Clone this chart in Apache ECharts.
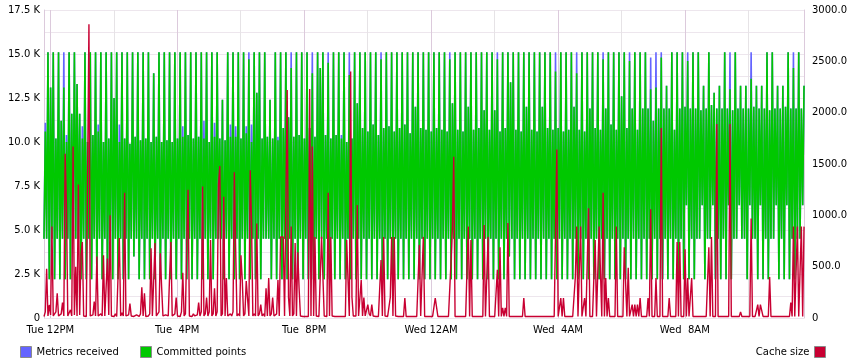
<!DOCTYPE html>
<html><head><meta charset="utf-8">
<script src="https://cdn.jsdelivr.net/npm/echarts@6/dist/echarts.min.js"></script>
<style>html,body{margin:0;padding:0;background:#fff}#c{width:850px;height:364px}</style>
</head><body><div id="c"></div>
<script>
// time: minutes since Tue 00:00; samples every 2.5 minutes starting Tue 11:48
const startMinute = 708;
const stepMinutes = 2.5;
const xTickValues = [720, 960, 1200, 1440, 1680, 1920];
const xTickLabels = ['Tue 12PM', 'Tue  4PM', 'Tue  8PM', 'Wed 12AM', 'Wed  4AM', 'Wed  8AM'];
const xMinorTickValues = [840, 1080, 1320, 1560, 1800, 2040];
const leftTickLabels = ['0', '2.5 K', '5.0 K', '7.5 K', '10.0 K', '12.5 K', '15.0 K', '17.5 K'];
const rightTickLabels = ['0', '500.0', '1000.0', '1500.0', '2000.0', '2500.0', '3000.0'];

// per 10-minute cycle values (thousands): trough after spike, secondary high, trough, spike
const lowsA = [
4.5,2.2,2.2,2.2,2.2,2.2,4.5,2.2,2.2,2.2,2.2,2.2,
2.2,2.2,2.2,2.2,2.2,3.5,2.2,2.2,2.2,2.2,2.2,2.2,
2.2,2.2,2.2,2.2,2.2,2.2,2.2,2.2,2.2,4.5,2.2,2.2,
2.2,2.2,2.2,2.2,2.2,2.2,4.5,2.2,2.2,2.2,2.2,2.2,
2.2,2.2,2.2,2.2,2.2,2.2,2.2,2.2,2.2,2.2,2.2,2.2,
2.2,2.2,2.2,2.2,2.2,2.2,2.2,2.2,2.2,2.2,2.2,2.2,
2.2,2.2,2.2,2.2,2.2,2.2,2.2,2.2,2.2,2.2,2.2,2.2,
2.2,2.2,2.2,2.2,3.5,2.2,2.2,2.2,2.2,2.2,2.2,2.2,
2.2,2.2,2.2,2.2,2.2,2.2,2.2,2.2,2.2,2.2,2.2,2.2,
2.2,2.2,2.2,2.2,2.2,2.2,2.2,2.2,2.2,2.2,2.2,2.2,
2.2,2.2,2.2,2.2,4.5,2.2,4.5,2.2,2.2,2.2,2.2,4.5,
4.5,2.2,4.5,2.2,2.2,2.2,4.5,2.2,2.2,2.2,2.2,4.5];
const lowsB = [
4.5,4.5,4.5,4.5,4.5,4.5,4.5,4.5,4.5,4.5,4.5,4.5,
4.5,4.5,4.5,4.5,4.5,4.5,4.5,4.5,4.5,4.5,4.5,4.5,
4.5,4.5,4.5,4.5,4.5,4.5,4.5,4.5,4.5,4.5,4.5,4.5,
4.5,4.5,4.5,4.5,4.5,4.5,4.5,4.5,4.5,4.5,4.5,4.5,
4.5,4.5,4.5,4.5,4.5,4.5,4.5,4.5,4.5,4.5,4.5,4.5,
4.5,4.5,4.5,4.5,4.5,4.5,4.5,4.5,4.5,4.5,4.5,4.5,
4.5,4.5,4.5,4.5,4.5,4.5,4.5,4.5,4.5,4.5,4.5,4.5,
4.5,4.5,4.5,4.5,4.5,4.5,4.5,4.5,4.5,4.5,4.5,4.5,
4.5,4.5,4.5,4.5,4.5,4.5,4.5,4.5,4.5,4.5,4.5,4.5,
4.5,4.5,4.5,4.5,4.5,4.5,4.5,4.5,4.5,4.5,4.5,4.5,
4.5,6.4,4.5,4.5,6.4,4.5,6.4,4.5,4.5,6.4,4.5,6.4,
4.5,6.4,4.5,6.4,4.5,4.5,6.4,4.5,6.4,4.5,4.5,6.4];
const committedHighs = [
10.6,13.1,10.2,11.2,10.0,11.6,13.3,10.2,10.0,10.4,10.6,10.0,
10.2,12.5,10.0,10.2,9.9,10.3,10.1,10.2,10.0,10.3,10.0,10.1,
10.0,10.2,10.3,10.4,10.2,10.3,10.2,10.0,10.3,10.2,10.1,10.3,
10.3,10.2,10.5,10.0,12.8,10.2,10.3,10.2,10.1,10.8,11.4,10.3,
10.4,10.2,10.8,10.3,14.2,10.4,10.2,10.4,10.2,10.0,10.2,12.2,
10.8,10.6,11.0,10.4,10.8,10.9,10.6,10.8,11.0,10.5,12.0,10.8,
10.7,10.6,10.8,10.7,10.6,12.2,10.7,10.6,12.0,10.7,10.8,11.8,
10.7,11.8,10.6,10.8,13.4,10.7,10.6,12.0,10.7,10.6,12.0,10.8,
10.7,10.8,10.6,10.7,12.0,10.7,10.6,11.9,10.8,10.7,11.9,11.0,
10.7,12.6,10.8,11.9,10.7,11.9,11.9,11.2,11.9,11.9,11.9,10.7,
11.9,12.0,11.9,11.9,11.8,11.9,12.1,11.9,11.9,11.9,11.8,11.9,
11.9,11.9,12.0,11.9,11.9,11.8,11.9,11.9,12.0,11.9,11.9,11.9];
const committedPeaks = [
15.1,15.1,15.1,13.1,15.1,15.1,11.6,15.1,15.1,15.1,15.1,15.1,
15.1,15.1,15.1,15.1,15.1,15.1,15.1,15.1,13.9,15.1,15.1,15.1,
15.1,15.1,15.1,15.1,15.1,15.1,15.1,15.1,15.1,12.4,15.1,15.1,
15.1,15.1,14.7,15.1,15.1,15.1,12.4,15.1,15.1,15.1,14.2,15.1,
15.1,15.1,13.9,15.1,15.1,14.5,15.1,15.1,15.1,13.8,15.1,15.1,
15.1,15.1,15.1,14.7,15.1,15.1,15.1,15.1,15.1,15.1,15.1,15.1,
15.1,15.1,15.1,15.1,14.7,15.1,15.1,15.1,15.1,15.1,15.1,15.1,
15.1,14.7,15.1,15.1,15.1,15.1,15.1,15.1,15.1,15.1,15.1,15.1,
14.0,15.1,15.1,15.1,13.9,15.1,15.1,15.1,15.1,14.7,15.1,15.1,
15.1,15.1,14.6,15.1,15.1,15.1,13.0,13.1,14.8,13.2,15.1,15.1,
15.1,14.6,15.1,15.1,13.2,15.1,12.8,13.2,15.1,13.0,15.1,13.2,
13.2,13.6,13.2,13.2,15.1,15.1,13.2,13.2,15.1,14.2,15.1,13.2];
const receivedHighs = [
11.1,13.1,10.2,11.2,10.4,11.6,13.3,10.9,10.0,10.4,11.0,10.0,
10.2,12.5,11.0,10.2,9.9,10.3,10.1,10.2,10.0,10.3,10.0,10.1,
10.0,10.2,10.9,10.4,10.2,10.3,11.2,10.0,11.1,10.2,10.1,11.0,
10.9,10.2,10.9,11.0,12.8,10.2,10.3,10.2,10.3,10.8,11.4,10.3,
10.4,10.2,10.8,10.3,14.2,10.4,10.2,10.4,10.4,10.0,10.2,12.2,
10.8,10.6,11.0,10.4,10.8,10.9,10.6,10.8,11.0,10.5,12.0,10.8,
10.7,10.6,10.8,10.7,10.6,12.2,10.7,10.6,12.0,10.7,10.8,11.8,
10.7,11.8,10.6,10.8,13.4,10.7,10.6,12.0,10.7,10.6,12.0,10.8,
10.7,10.8,10.6,10.7,12.0,10.7,10.6,11.9,10.8,10.7,11.9,11.0,
10.7,12.6,10.8,11.9,10.7,11.9,11.9,11.2,11.9,11.9,11.9,10.7,
11.9,12.0,11.9,11.9,11.8,11.9,12.1,11.9,11.9,11.9,11.8,11.9,
11.9,11.9,12.0,11.9,11.9,11.8,11.9,11.9,12.0,11.9,11.9,11.9];
const receivedPeaks = [
15.1,15.1,15.1,15.1,15.1,15.1,11.6,15.1,15.1,15.1,15.1,15.1,
15.1,15.1,15.1,15.1,15.1,15.1,15.1,15.1,13.9,15.1,15.1,15.1,
15.1,15.1,15.1,15.1,15.1,15.1,15.1,15.1,15.1,12.4,15.1,15.1,
15.1,15.1,15.1,15.1,15.1,15.1,12.4,15.1,15.1,15.1,15.1,15.1,
15.1,15.1,15.1,15.1,15.1,15.1,15.1,15.1,15.1,15.1,15.1,15.1,
15.1,15.1,15.1,15.1,15.1,15.1,15.1,15.1,15.1,15.1,15.1,15.1,
15.1,15.1,15.1,15.1,15.1,15.1,15.1,15.1,15.1,15.1,15.1,15.1,
15.1,15.1,15.1,15.1,15.1,15.1,15.1,15.1,15.1,15.1,15.1,15.1,
15.1,15.1,15.1,15.1,15.1,15.1,15.1,15.1,15.1,15.1,15.1,15.1,
15.1,15.1,15.1,15.1,15.1,15.1,14.8,15.1,15.1,13.2,15.1,15.1,
15.1,15.1,15.1,15.1,13.2,15.1,12.8,13.2,15.1,15.1,15.1,13.2,
13.2,15.1,13.2,13.2,15.1,15.1,13.2,13.2,15.1,15.1,15.1,13.2];

// cache size, one value per 2.5-minute sample (24 per hour)
const cacheSize = [
15,60,480,20,127,30,890,20,15,60,240,20,15,40,150,20,1600,1080,20,15,80,20,1670,30,
500,20,1300,30,610,740,20,15,15,20,2860,20,15,30,160,20,600,20,15,40,20,610,20,15,
580,30,1000,20,15,15,40,15,20,780,20,50,20,1220,20,15,30,140,20,15,15,15,30,15,
15,40,300,20,240,15,15,20,40,680,20,15,730,20,15,60,630,300,20,15,30,15,20,400,
740,20,15,40,200,20,15,15,60,440,20,40,730,1250,20,15,15,40,20,15,30,150,20,60,
1280,20,40,200,20,60,760,20,40,290,20,60,1300,1480,20,40,1180,20,390,20,15,40,20,60,
1420,680,20,40,20,610,370,20,40,360,360,20,1440,950,20,40,20,920,20,40,130,20,40,15,
290,20,390,20,40,200,20,15,40,370,20,790,790,790,20,15,2220,200,20,890,20,40,730,20,
640,290,20,15,15,15,15,15,15,2230,20,1670,20,790,20,15,15,15,790,790,20,15,15,1220,
20,790,20,15,15,15,15,15,15,15,15,20,15,760,370,20,2400,200,20,15,20,1100,20,15,
370,20,200,20,15,130,40,20,130,20,15,15,15,15,20,565,20,790,20,15,15,15,200,790,
20,790,20,15,15,15,15,15,15,195,15,15,15,15,15,15,15,15,15,15,710,20,15,790,
15,15,15,15,15,15,15,15,195,195,15,15,15,15,15,15,15,15,15,15,565,890,1570,15,
15,15,15,15,15,15,15,15,15,890,15,760,15,15,15,15,15,15,15,15,15,906,15,15,
790,15,15,15,15,15,15,470,15,690,15,100,15,100,15,925,15,15,15,15,15,15,15,15,
15,15,15,195,15,15,15,15,15,15,15,15,15,15,15,15,15,15,15,15,15,15,15,15,
15,15,15,15,1640,15,15,195,15,195,15,15,15,15,15,15,15,15,400,890,15,15,890,15,
15,195,15,15,1070,15,15,15,15,760,15,15,890,890,15,1220,15,390,15,195,15,15,15,15,
15,890,15,15,15,15,15,690,690,15,490,15,15,130,15,130,15,130,15,195,15,15,15,15,
15,195,15,1060,15,15,15,390,15,15,15,1850,15,15,15,15,15,195,15,15,15,15,15,740,
15,740,15,15,15,670,15,390,15,15,390,15,15,15,15,15,15,15,15,15,15,15,15,690,
15,790,15,15,15,1890,15,15,15,15,15,15,15,15,15,1890,15,15,15,15,15,15,15,60,
15,15,15,15,15,15,15,970,15,15,15,15,130,15,130,130,15,15,15,15,15,400,15,15,
15,15,15,15,15,15,15,15,15,15,15,15,15,150,15,890,15,15,890,15,15,890,15,890];

function interleave(a, h, b, p) {
  const out = [];
  for (let k = 0; k < p.length; k++) out.push(a[k], h[k], b[k], p[k]);
  return out;
}
const toXY = arr => arr.map((v, i) => [startMinute + i * stepMinutes, v]);
const committed = toXY(interleave(lowsA, committedHighs, lowsB, committedPeaks));
const received = toXY(interleave(lowsA, receivedHighs, lowsB, receivedPeaks));
const cache = toXY(cacheSize);
const xMax = startMinute + (cacheSize.length - 1) * stepMinutes;

const FONT = 'DejaVu Sans';
const txt = {fontFamily: FONT, fontSize: 10, color: '#000'};
const chart = echarts.init(document.getElementById('c'), null, {renderer: 'canvas'});
const legendBase = {
  top: 346, padding: 0, itemWidth: 11, itemHeight: 11, icon: 'rect', selectedMode: false,
  textStyle: {fontFamily: FONT, fontSize: 10, color: '#000'},
  itemStyle: {borderColor: '#8a8a8a', borderWidth: 1}
};
chart.setOption({
  animation: false,
  backgroundColor: '#fff',
  grid: {left: 44, right: 42, top: 10, bottom: 46},
  legend: [
    Object.assign({left: 20, data: ['Metrics received']}, legendBase),
    Object.assign({left: 140, data: ['Committed points']}, legendBase),
    Object.assign({right: 24, align: 'right', data: ['Cache size']}, legendBase)
  ],
  xAxis: [
    {type: 'value', min: startMinute, max: xMax,
     axisLine: {show: false}, axisTick: {show: false, customValues: xTickValues},
     axisLabel: Object.assign({customValues: xTickValues, margin: 7,
       formatter: v => xTickLabels[xTickValues.indexOf(v)] || ''}, txt),
     splitLine: {show: true, lineStyle: {color: '#dccadc', width: 1}}},
    {type: 'value', min: startMinute, max: xMax, position: 'bottom',
     axisLine: {show: false}, axisTick: {show: false, customValues: xMinorTickValues},
     axisLabel: {show: false, customValues: xMinorTickValues},
     splitLine: {show: true, lineStyle: {color: '#e6e3e6', width: 1}}}
  ],
  yAxis: [
    {type: 'value', min: 0, max: 17.5, interval: 2.5, position: 'left',
     axisLine: {show: true, lineStyle: {color: '#dccadc'}}, axisTick: {show: false},
     axisLabel: Object.assign({margin: 4, formatter: v => leftTickLabels[Math.round(v / 2.5)]}, txt),
     splitLine: {show: true, lineStyle: {color: '#ede6ed'}},
     minorTick: {show: false, splitNumber: 2},
     minorSplitLine: {show: true, lineStyle: {color: '#ede6ed'}}},
    {type: 'value', min: 0, max: 3000, interval: 500, position: 'right',
     axisLine: {show: true, lineStyle: {color: '#dccadc'}}, axisTick: {show: false},
     axisLabel: Object.assign({margin: 8, formatter: v => rightTickLabels[Math.round(v / 500)]}, txt),
     splitLine: {show: false}}
  ],
  series: [
    {name: 'Metrics received', type: 'line', data: received, symbol: 'none', showSymbol: false,
     lineStyle: {color: '#6464ff', width: 1.6}, itemStyle: {color: '#6464ff'}, z: 2},
    {name: 'Committed points', type: 'line', data: committed, symbol: 'none', showSymbol: false,
     lineStyle: {color: '#00c800', width: 1.6}, itemStyle: {color: '#00c800'}, z: 3},
    {name: 'Cache size', type: 'line', yAxisIndex: 1, data: cache, symbol: 'none', showSymbol: false,
     lineStyle: {color: '#c80032', width: 1.4}, itemStyle: {color: '#c80032'}, z: 4}
  ]
});
</script></body></html>
